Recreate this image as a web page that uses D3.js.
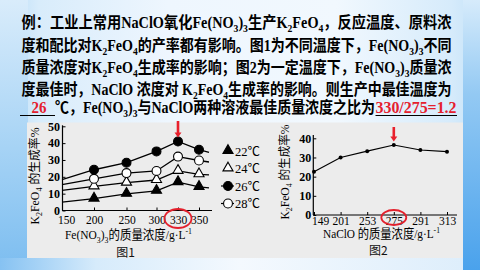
<!DOCTYPE html>
<html><head><meta charset="utf-8">
<script src="https://cdn.jsdelivr.net/npm/d3@7"></script>
<style>html,body{margin:0;padding:0;overflow:hidden;background:#eaf4fd}</style>
</head><body><svg id="c" width="480" height="270"></svg>
<script>
// ---- data ----
const fig1Ticks = [150, 200, 250, 300, 330, 350];
const fig1LineX = [150, 200, 250, 300, 330, 350, 365];
const fig1Series = ["22℃", "24℃", "26℃", "28℃"];
const fig1_22 = [5.0, 7.0, 9.9, 11.7, 16.8, 14.0, 13.4];
const fig1_24 = [11.9, 14.3, 16.5, 18.1, 23.5, 21.5, 21.2];
const fig1_26 = [18.3, 24.2, 28.4, 35.1, 41.0, 36.1, 34.5];
const fig1_28 = [15.3, 18.8, 22.2, 23.5, 32.0, 29.7, 28.8];
const fig1YTicks = [0, 10, 20, 30, 40, 50];
const fig2Cats = ["149", "201", "253", "275", "291", "313"];
const fig2Vals = [22.6, 30.0, 33.3, 36.5, 33.9, 33.0];
const fig2YTicks = [0, 10, 20, 30, 40];
const fig1Best = 330, fig2Best = "275";

const line1 = [["例：工业上常用NaClO氧化Fe(NO"],["3","s"],[")"],["3","s"],["生产K"],["2","s"],["FeO"],["4","s"],["，反应温度、原料浓"]];
const line2 = [["度和配比对K"],["2","s"],["FeO"],["4","s"],["的产率都有影响。图1为不同温度下，Fe(NO"],["3","s"],[")"],["3","s"],["不同"]];
const line3 = [["质量浓度对K"],["2","s"],["FeO"],["4","s"],["生成率的影响；图2为一定温度下，Fe(NO"],["3","s"],[")"],["3","s"],["质量浓"]];
const line4 = [["度最佳时，NaClO 浓度对 K"],["2","s"],["FeO"],["4","s"],["生成率的影响。则生产中最佳温度为"]];
const line5a = [["26"]];
const line5b = [["℃，Fe(NO"],["3","s"],[")"],["3","s"],["与NaClO两种溶液最佳质量浓度之比为"]];
const line5c = [["330/275=1.2"]];
const yTitle = [["K"],["2","s"],["FeO"],["4","s"],[" 的生成率%"]];
const x1Title = [["Fe(NO"],["3","s"],[")"],["3","s"],["的质量浓度/g·L"],["-1","p"]];
const x2Title = [["NaClO 的质量浓度/g·L"],["-1","p"]];

// ---- drawing ----
const svg = d3.select("#c");
const defs = svg.append("defs");
function lg(id, x1, y1, x2, y2, stops) {
  const g = defs.append("linearGradient").attr("id", id)
    .attr("x1", x1).attr("y1", y1).attr("x2", x2).attr("y2", y2);
  stops.forEach(s => g.append("stop").attr("offset", s[0]).attr("stop-color", s[1]));
}
lg("bgH", 0, 0, 1, 0, [[0, "#b4daf7"], [0.08, "#d8ecfb"], [0.35, "#eef6fe"], [0.7, "#f1f8fe"], [0.94, "#d6ebfb"], [1, "#c4e2f8"]]);
lg("lb", 0, 0, 0, 1, [[0, "#d9ecfb"], [0.55, "#a6d3f5"], [1, "#7cbdf0"]]);
lg("rb", 0, 0, 0, 1, [[0, "#d6ebfb"], [0.35, "#93c9f3"], [1, "#4aa2ec"]]);
lg("bb", 0, 0, 1, 0, [[0, "#86c2f2"], [0.2, "#d6ebfb"], [0.5, "#f4f9fe"], [1, "#dcedfb"]]);

svg.append("rect").attr("width", 480).attr("height", 270).attr("fill", "url(#bgH)");
svg.append("rect").attr("x", 0).attr("y", 0).attr("width", 28).attr("height", 270).attr("fill", "url(#lb)");
svg.append("rect").attr("x", 0).attr("y", 258).attr("width", 480).attr("height", 12).attr("fill", "url(#bb)");
svg.append("rect").attr("x", 463).attr("y", 0).attr("width", 17).attr("height", 270).attr("fill", "url(#rb)");

function rich(parent, x, y, segs, o) {
  const t = parent.append("text").attr("x", x).attr("y", y)
    .attr("font-family", o.font || "'Liberation Serif','Noto Sans CJK SC',serif")
    .attr("font-size", o.size).attr("font-weight", o.weight || "normal")
    .attr("fill", o.fill || "#000");
  if (o.anchor) t.attr("text-anchor", o.anchor);
  if (o.len) t.attr("textLength", o.len).attr("lengthAdjust", "spacingAndGlyphs");
  if (o.transform) t.attr("transform", o.transform);
  let shift = 0;
  const sh = o.size * 0.28;
  segs.forEach(s => {
    const ts = t.append("tspan").text(s[0]);
    let target = 0;
    if (s[1] === "s") { target = sh; ts.attr("font-size", o.size * 0.68); }
    if (s[1] === "p") { target = -o.size * 0.38; ts.attr("font-size", o.size * 0.68); }
    if (target !== shift) { ts.attr("dy", target - shift); shift = target; }
  });
  return t;
}

// header text
const hf = { size: 16, weight: "bold", font: "'Liberation Serif','Noto Sans CJK SC',serif" };
rich(svg, 21.5, 28, line1, { ...hf, len: 430 });
rich(svg, 21.5, 50.8, line2, { ...hf, len: 430 });
rich(svg, 21.5, 73, line3, { ...hf, len: 430 });
rich(svg, 21.5, 95, line4, { ...hf, len: 430 });
rich(svg, 31.5, 112.5, line5a, { ...hf, len: 15, fill: "#e5202e" });
rich(svg, 55, 112.5, line5b, { ...hf, len: 320 });
rich(svg, 375.5, 112.5, line5c, { ...hf, len: 81, fill: "#e5202e" });
svg.append("line").attr("x1", 20).attr("x2", 55).attr("y1", 115.5).attr("y2", 115.5).attr("stroke", "#000").attr("stroke-width", 1.2);
svg.append("line").attr("x1", 375.5).attr("x2", 457).attr("y1", 115.5).attr("y2", 115.5).attr("stroke", "#000").attr("stroke-width", 1.2);

// panel
svg.append("rect").attr("x", 27).attr("y", 122.5).attr("width", 436).attr("height", 135.5).attr("fill", "#ececec");

const tickFont = "'Liberation Serif','DejaVu Serif',serif";
const cjk = "'Liberation Serif','Noto Sans CJK SC',serif";

// ---- figure 1 ----
const x1 = d3.scaleLinear().domain(fig1LineX).range([62, 94, 126.5, 156.5, 178, 199, 209]);
const y1 = d3.scaleLinear().domain([0, 50]).range([210.5, 126.3]);
const g1 = svg.append("g");
const ax1 = g1.append("g").attr("transform", "translate(0,210.5)")
  .call(d3.axisBottom(x1).tickValues(fig1Ticks).tickSize(-3).tickSizeOuter(0).tickFormat(d3.format("d")));
ax1.select(".domain").remove();
ax1.selectAll("text").attr("y", 13).attr("dy", 0).attr("font-family", tickFont).attr("font-size", 11.5).attr("fill", "#000");
ax1.selectAll("text").filter(d => d === 150).attr("dx", 4);
ax1.selectAll(".tick line").attr("stroke", "#000");
g1.append("line").attr("x1", x1(150)).attr("x2", 212).attr("y1", y1(0)).attr("y2", y1(0)).attr("stroke", "#000").attr("stroke-width", 1.2);
const ay1 = g1.append("g").attr("transform", "translate(62.5,0)")
  .call(d3.axisLeft(y1).tickValues(fig1YTicks).tickSize(-3).tickPadding(2.5));
ay1.select(".domain").remove();
ay1.selectAll("text").attr("font-family", tickFont).attr("font-size", 12).attr("font-weight", "bold").attr("fill", "#000");
ay1.selectAll(".tick line").attr("stroke", "#000");
g1.append("line").attr("x1", 62.5).attr("x2", 62.5).attr("y1", y1(0)).attr("y2", y1(50) - 1).attr("stroke", "#000").attr("stroke-width", 1.2);

const series1 = [fig1_22, fig1_24, fig1_26, fig1_28];
const kinds = [
  { sym: d3.symbolTriangle, fill: "#000" },
  { sym: d3.symbolTriangle, fill: "#fff" },
  { sym: d3.symbolCircle, fill: "#000" },
  { sym: d3.symbolCircle, fill: "#fff" }
];
const lineGen = d3.line().x((d, i) => x1(fig1LineX[i])).y(d => y1(d));
series1.forEach((vals, si) => {
  g1.append("path").attr("d", lineGen(vals)).attr("fill", "none").attr("stroke", "#000").attr("stroke-width", 1.3);
});
function marker(g, k, x, y) {
  const size = k.sym === d3.symbolCircle ? 62 : 44;
  g.append("path").attr("d", d3.symbol().type(k.sym).size(size)())
    .attr("transform", `translate(${x},${y + (k.sym === d3.symbolTriangle ? -0.5 : 0)})`)
    .attr("fill", k.fill).attr("stroke", "#000").attr("stroke-width", 1.1);
}
series1.forEach((vals, si) => {
  vals.forEach((v, i) => {
    if (i === 0 || i === vals.length - 1) return;
    marker(g1, kinds[si], x1(fig1LineX[i]), y1(v));
  });
});
// legend
const legY = d3.scalePoint().domain(fig1Series).range([151, 203.5]);
fig1Series.forEach((name, si) => {
  const y = legY(name);
  if (kinds[si].sym === d3.symbolCircle)
    g1.append("line").attr("x1", 221).attr("x2", 234).attr("y1", y).attr("y2", y).attr("stroke", "#000").attr("stroke-width", 1.2);
  marker(g1, kinds[si], 228, y);
  g1.append("text").attr("x", 235).attr("y", y + 4.5).text(name)
    .attr("font-family", "'Liberation Serif','Noto Sans CJK SC',serif").attr("font-size", 12.5).attr("fill", "#000")
    .attr("textLength", 25).attr("lengthAdjust", "spacingAndGlyphs");
});
// titles
rich(g1, 38.5, 0, yTitle, { size: 12, font: cjk, len: 97, anchor: "middle", transform: "translate(0,176) rotate(-90,38.5,0)" });
rich(g1, 65, 239, x1Title, { size: 13, font: cjk, len: 127 });
g1.append("text").attr("x", 125.5).attr("y", 256.5).attr("text-anchor", "middle").text("图1")
  .attr("font-family", "'Noto Sans CJK SC'").attr("font-size", 12).attr("fill", "#111");
// highlights
function arrow(g, x, yTop, yTip) {
  g.append("line").attr("x1", x).attr("x2", x).attr("y1", yTop).attr("y2", yTip - 4).attr("stroke", "#e8202c").attr("stroke-width", 2.6);
  g.append("path").attr("d", d3.line()([[x - 3.5, yTip - 5], [x + 3.5, yTip - 5], [x, yTip]])).attr("fill", "#e8202c");
}
arrow(g1, x1(fig1Best), 121, 137.5);
g1.append("ellipse").attr("cx", x1(fig1Best)).attr("cy", 218.5).attr("rx", 13.5).attr("ry", 9.5)
  .attr("fill", "none").attr("stroke", "#e3202c").attr("stroke-width", 1.8);

// ---- figure 2 ----
const x2 = d3.scalePoint().domain(fig2Cats).range([314, 447]);
const y2 = d3.scaleLinear().domain([0, 40]).range([215, 138.3]);
const g2 = svg.append("g");
const ax2 = g2.append("g").attr("transform", "translate(0,215)")
  .call(d3.axisBottom(x2).tickSize(-3).tickSizeOuter(0));
ax2.select(".domain").remove();
ax2.selectAll("text").attr("y", 9.5).attr("dy", 0).attr("font-family", tickFont).attr("font-size", 11.5).attr("fill", "#000");
ax2.selectAll("text").filter(d => d === fig2Cats[0]).attr("dx", 6);
ax2.selectAll(".tick line").attr("stroke", "#000");
g2.append("line").attr("x1", 313.3).attr("x2", 457).attr("y1", 215).attr("y2", 215).attr("stroke", "#000").attr("stroke-width", 1.2);
const ay2 = g2.append("g").attr("transform", "translate(313.3,0)")
  .call(d3.axisLeft(y2).tickValues(fig2YTicks).tickSize(-3).tickPadding(2));
ay2.select(".domain").remove();
ay2.selectAll("text").attr("font-family", tickFont).attr("font-size", 12).attr("font-weight", "bold").attr("fill", "#000");
ay2.selectAll(".tick line").attr("stroke", "#000");
g2.append("line").attr("x1", 313.3).attr("x2", 313.3).attr("y1", 215).attr("y2", 135).attr("stroke", "#000").attr("stroke-width", 1.2);
g2.append("path").attr("d", d3.line().x((d, i) => x2(fig2Cats[i])).y(d => y2(d))(fig2Vals))
  .attr("fill", "none").attr("stroke", "#000").attr("stroke-width", 1.2);
g2.selectAll("circle.pt").data(fig2Vals).join("circle").attr("class", "pt")
  .attr("cx", (d, i) => x2(fig2Cats[i])).attr("cy", d => y2(d)).attr("r", 2).attr("fill", "#000");
rich(g2, 288.8, 0, yTitle, { size: 12, font: cjk, len: 95, anchor: "middle", transform: "translate(0,172) rotate(-90,288.8,0)" });
rich(g2, 323, 237.5, x2Title, { size: 13, font: cjk, len: 117 });
g2.append("text").attr("x", 378.3).attr("y", 254.5).attr("text-anchor", "middle").text("图2")
  .attr("font-family", "'Noto Sans CJK SC'").attr("font-size", 12).attr("fill", "#111");
arrow(g2, x2(fig2Best), 127, 141.5);
g2.append("ellipse").attr("cx", x2(fig2Best)).attr("cy", 217.5).attr("rx", 12.5).attr("ry", 7.5)
  .attr("fill", "none").attr("stroke", "#e3202c").attr("stroke-width", 1.8);
</script></body></html>
